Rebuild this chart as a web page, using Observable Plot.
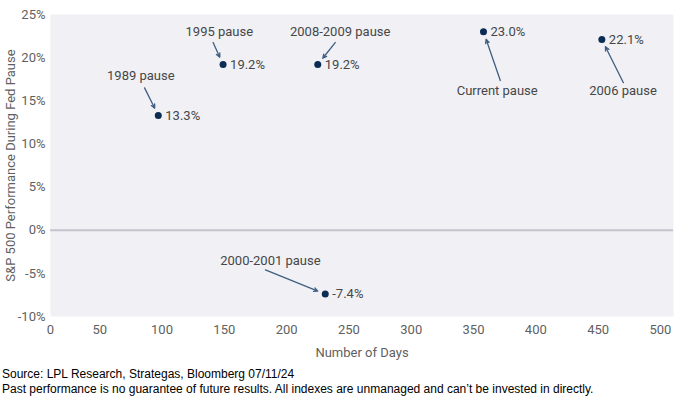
<!DOCTYPE html>
<html><head><meta charset="utf-8">
<script src="https://cdn.jsdelivr.net/npm/d3@7"></script>
<script src="https://cdn.jsdelivr.net/npm/@observablehq/plot@0.6"></script>
<style>
body{margin:0;background:#fff;}
#caption{font-family:"Liberation Sans",Arial,sans-serif;font-size:12px;color:#000;line-height:15px;padding-left:2px;margin-top:5px;}
</style></head><body>
<div id="chart"></div>
<div id="caption"><div>Source: LPL Research, Strategas, Bloomberg 07/11/24</div><div>Past performance is no guarantee of future results. All indexes are unmanaged and can’t be invested in directly.</div></div>
<script>
// Data
const pauses = ["1989 pause", "1995 pause", "2008-2009 pause", "2000-2001 pause", "Current pause", "2006 pause"];
const days = [97, 149, 225, 231, 358, 453];
const performance = [13.3, 19.2, 19.2, -7.4, 23.0, 22.1];
const xTicks = [0, 50, 100, 150, 200, 250, 300, 350, 400, 450, 500];
const yTicks = [-10, -5, 0, 5, 10, 15, 20, 25];
// Annotation placement (in data units)
const labelDays = [83, 146, 243, 187, 369, 470];
const labelPerf = [17.9, 23.0, 23.0, -3.5, 16.2, 16.2];
const arrowDays = [86, 141, 239, 183, 371.5, 470.3];
const arrowPerf = [16.5, 21.75, 21.75, -4.6, 17.35, 17.1];

const idx = d3.range(pauses.length);

const chart = Plot.plot({
  width: 680, height: 362,
  marginLeft: 50, marginRight: 7, marginTop: 14, marginBottom: 46,
  style: {fontFamily: "Roboto, sans-serif", fontSize: "13px", color: "#5f5f5f", background: "transparent"},
  x: {domain: [10.5, 510.5]},
  y: {domain: [-10, 25]},
  marks: [
    Plot.frame({fill: "#f0f0f5", stroke: "none"}),
    Plot.ruleY([0], {stroke: "#c4c4cc", strokeWidth: 2}),
    Plot.axisX(xTicks.filter(t => t > 0), {tickSize: 0, tickPadding: 8, label: "Number of Days", labelAnchor: "center", labelOffset: 40, labelArrow: "none"}),
    Plot.axisX([0], {tickSize: 0, tickPadding: 8, dx: 13, label: null}),
    Plot.axisY(yTicks, {tickSize: 0, tickPadding: 5, tickFormat: d => d + "%", label: "S&P 500 Performance During Fed Pause", labelAnchor: "center", labelOffset: 45, labelArrow: "none"}),
    Plot.arrow(idx, {
      x1: i => arrowDays[i], y1: i => arrowPerf[i],
      x2: i => days[i], y2: i => performance[i],
      insetEnd: 8, headLength: 5, headAngle: 50, stroke: "#3f5f82", strokeWidth: 1.3
    }),
    Plot.dot(idx, {x: i => days[i], y: i => performance[i], r: 3.5, fill: "#0b2c55", stroke: "none"}),
    Plot.text(idx, {x: i => days[i], y: i => performance[i], text: i => performance[i].toFixed(1) + "%", textAnchor: "start", dx: 7, fill: "#474747", fontSize: 13}),
    Plot.text(idx, {x: i => labelDays[i], y: i => labelPerf[i], text: i => pauses[i], fill: "#474747", fontSize: 13})
  ]
});
document.getElementById("chart").appendChild(chart);
</script>
</body></html>
